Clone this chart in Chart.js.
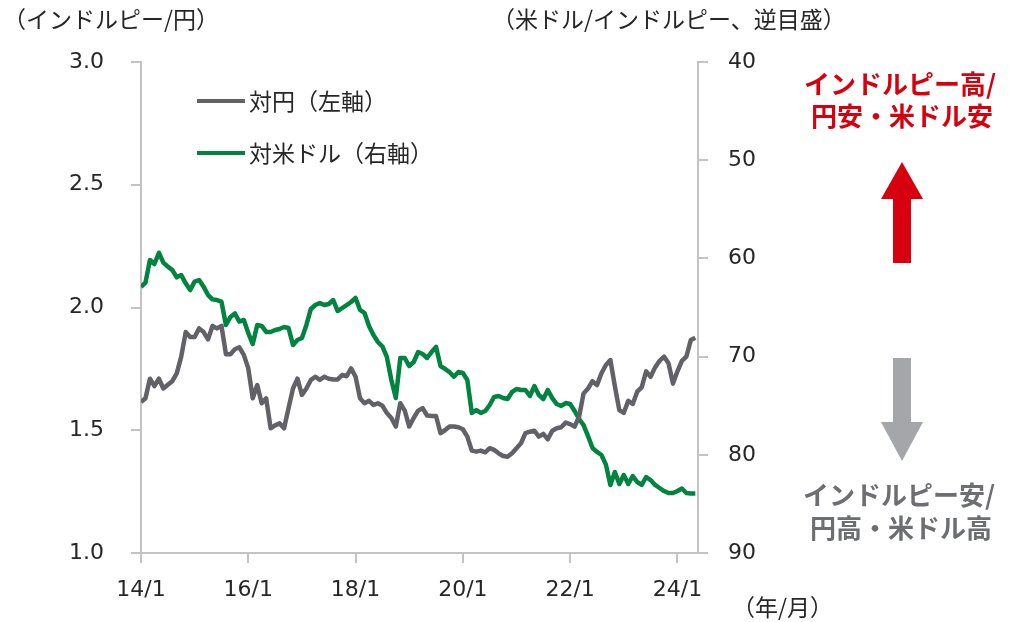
<!DOCTYPE html>
<html><head><meta charset="utf-8">
<script src="https://cdn.jsdelivr.net/npm/chart.js@4.4.0/dist/chart.umd.min.js"></script>
<style>html,body{margin:0;padding:0;background:#fff;}#wrap{width:1009px;height:622px;position:relative;}</style>
</head><body><div id="wrap"><canvas id="c" width="1009" height="622"></canvas></div>
<script>
// ---- data ----
const startYear = 2014, monthCount = 125; // 2014/1 .. 2024/5
const monthLabels = [];
for (let i = 0; i < monthCount; i++) {
  const y = startYear + Math.floor(i / 12), m = (i % 12) + 1;
  monthLabels.push(String(y).slice(2) + '/' + m);
}
const monthIndex = monthLabels.map((_, i) => i);

// インドルピー/円 (left axis)
const inrJpy = [
  1.615, 1.63, 1.71, 1.68, 1.71, 1.67, 1.685, 1.70, 1.732, 1.80,
  1.90, 1.88, 1.88, 1.915, 1.90, 1.87, 1.925, 1.915, 1.925, 1.81,
  1.81, 1.83, 1.838, 1.807, 1.752, 1.63, 1.684, 1.61, 1.63, 1.508,
  1.52, 1.528, 1.508, 1.59, 1.67, 1.71, 1.644, 1.67, 1.705, 1.718,
  1.705, 1.718, 1.71, 1.707, 1.707, 1.725, 1.72, 1.752, 1.718, 1.63,
  1.61, 1.62, 1.603, 1.61, 1.60, 1.57, 1.55, 1.515, 1.61, 1.58,
  1.515, 1.55, 1.58, 1.59, 1.56, 1.558, 1.558, 1.488, 1.50, 1.515,
  1.515, 1.512, 1.504, 1.474, 1.417, 1.413, 1.417, 1.41, 1.427, 1.42,
  1.406, 1.395, 1.392, 1.406, 1.427, 1.447, 1.488, 1.494, 1.498, 1.474,
  1.485, 1.463, 1.498, 1.508, 1.512, 1.531, 1.525, 1.515, 1.555, 1.65,
  1.67, 1.70, 1.684, 1.732, 1.766, 1.786, 1.68, 1.582, 1.571, 1.62,
  1.607, 1.657, 1.675, 1.74, 1.718, 1.756, 1.783, 1.80, 1.773, 1.69,
  1.74, 1.783, 1.80, 1.868, 1.877
];
// 米ドル/インドルピー (right axis, reversed)
const usdInr = [
  62.9, 62.47, 60.16, 60.57, 59.42, 60.43, 60.84, 61.18, 61.93, 61.69,
  62.54, 63.22, 62.37, 62.20, 62.88, 63.73, 64.17, 64.24, 64.41, 66.78,
  65.97, 65.61, 66.43, 66.27, 67.60, 68.72, 66.78, 66.88, 67.49, 67.49,
  67.29, 67.19, 66.99, 67.09, 68.82, 68.31, 68.11, 66.78, 65.15, 64.75,
  64.54, 64.75, 64.64, 64.24, 65.36, 65.05, 64.75, 64.44, 64.03, 65.25,
  65.56, 66.88, 67.80, 68.51, 68.97, 70.04, 72.38, 74.22, 70.14, 70.14,
  70.96, 70.55, 69.53, 69.74, 70.14, 69.53, 69.02, 70.96, 71.26, 71.57,
  72.05, 71.57, 71.67, 72.38, 75.74, 75.44, 75.74, 75.54, 74.93, 74.11,
  74.01, 74.22, 74.32, 73.60, 73.30, 73.40, 73.40, 74.01, 73.0, 73.91,
  74.32, 73.40, 74.22, 74.83, 75.03, 74.73, 74.83, 75.54, 76.35, 76.97,
  78.09, 79.31, 79.71, 80.02, 81.0, 83.07, 81.75, 82.97, 82.06, 82.97,
  82.16, 82.77, 83.07, 82.26, 82.57, 83.07, 83.38, 83.69, 83.89, 83.89,
  83.69, 83.43, 83.89, 83.94, 83.94
];
const xTickPositions = [0, 24, 48, 72, 96, 120];
const xTickLabels = ['14/1', '16/1', '18/1', '20/1', '22/1', '24/1'];
const leftTicks = [1.0, 1.5, 2.0, 2.5, 3.0];
const rightTicks = [40, 50, 60, 70, 80, 90];
const seriesNames = ['対円（左軸）', '対米ドル（右軸）'];
const leftTitle = '（インドルピー/円）';
const rightTitle = '（米ドル/インドルピー、逆目盛）';
const xUnit = '（年/月）';
const upText = ['インドルピー高/', '円安・米ドル安'];
const downText = ['インドルピー安/', '円高・米ドル高'];

// ---- styles ----
const GRAY = '#616167', GREEN = '#00843f', RED = '#d7000f', ARROW_GRAY = '#a5a6a9';
const AXIS = '#c3c3c3', TXT = '#262626';
const NUMFONT = '"DejaVu Sans", Verdana, sans-serif';
const JPFONT = '"Noto Sans CJK JP", sans-serif';

const annot = {
  id: 'annot',
  afterDraw(chart) {
    const ctx = chart.ctx;
    ctx.save();
    ctx.textBaseline = 'middle';
    ctx.textAlign = 'left';
    ctx.fillStyle = TXT;
    ctx.font = '23px ' + JPFONT;
    ctx.fillText(leftTitle, 3, 19);
    ctx.fillText(rightTitle, 492, 19);
    ctx.fillText(xUnit, 732, 607);
    // legend
    chart.data.datasets.forEach((ds, i) => {
      const y = 101 + i * 52;
      ctx.strokeStyle = ds.borderColor; ctx.lineWidth = 4; ctx.lineCap = 'butt';
      ctx.beginPath(); ctx.moveTo(197, y); ctx.lineTo(245, y); ctx.stroke();
      ctx.fillStyle = TXT;
      ctx.font = '23px ' + JPFONT;
      ctx.fillText(ds.label, 249, y);
    });
    // annotation texts
    ctx.textAlign = 'center';
    ctx.font = 'bold 26px ' + JPFONT;
    ctx.fillStyle = RED;
    ctx.fillText(upText[0], 900, 84);
    ctx.fillText(upText[1], 902, 116);
    ctx.fillStyle = '#6d6e72';
    ctx.fillText(downText[0], 899, 495);
    ctx.fillText(downText[1], 901, 528);
    // red arrow (up)
    ctx.fillStyle = RED;
    ctx.beginPath();
    ctx.moveTo(902, 162); ctx.lineTo(923, 199); ctx.lineTo(911, 199); ctx.lineTo(911, 263);
    ctx.lineTo(893, 263); ctx.lineTo(893, 199); ctx.lineTo(881, 199); ctx.closePath(); ctx.fill();
    // gray arrow (down)
    ctx.fillStyle = ARROW_GRAY;
    ctx.beginPath();
    ctx.moveTo(893, 358); ctx.lineTo(911, 358); ctx.lineTo(911, 422); ctx.lineTo(923, 422);
    ctx.lineTo(902, 461); ctx.lineTo(881, 422); ctx.lineTo(893, 422); ctx.closePath(); ctx.fill();
    ctx.restore();
  }
};

new Chart(document.getElementById('c'), {
  type: 'line',
  data: {
    labels: monthIndex,
    datasets: [
      { label: seriesNames[0], data: inrJpy, yAxisID: 'yL', borderColor: GRAY, backgroundColor: GRAY,
        borderWidth: 4.5, pointRadius: 0, tension: 0, borderJoinStyle: 'round' },
      { label: seriesNames[1], data: usdInr, yAxisID: 'yR', borderColor: GREEN, backgroundColor: GREEN,
        borderWidth: 4.5, pointRadius: 0, tension: 0, borderJoinStyle: 'round' }
    ]
  },
  options: {
    responsive: false, animation: false,
    layout: { padding: { top: 62, left: 0, right: 0, bottom: 0 } },
    plugins: { legend: { display: false }, tooltip: { enabled: false } },
    scales: {
      x: {
        type: 'linear', min: 0, max: 124.6,
        afterBuildTicks: s => { s.ticks = xTickPositions.map(v => ({ value: v })); },
        afterFit: s => { s.height = 69; },
        ticks: { callback: (v) => xTickLabels[xTickPositions.indexOf(v)], color: TXT,
                 font: { family: NUMFONT, size: 22 }, padding: 14, maxRotation: 0, autoSkip: false },
        grid: { drawOnChartArea: false, drawTicks: true, tickLength: 10, color: AXIS, lineWidth: 2 },
        border: { color: AXIS, width: 2 }
      },
      yL: {
        position: 'left', min: 1, max: 3,
        afterBuildTicks: s => { s.ticks = leftTicks.map(v => ({ value: v })); },
        afterFit: s => { s.width = 141; },
        ticks: { callback: v => v.toFixed(1), color: TXT, font: { family: NUMFONT, size: 22 }, padding: 27 },
        grid: { drawOnChartArea: false, drawTicks: true, tickLength: 10, color: AXIS, lineWidth: 2 },
        border: { color: AXIS, width: 2 }
      },
      yR: {
        position: 'right', min: 40, max: 90, reverse: true,
        afterBuildTicks: s => { s.ticks = rightTicks.map(v => ({ value: v })); },
        afterFit: s => { s.width = 311; },
        ticks: { callback: v => String(v), color: TXT, font: { family: NUMFONT, size: 22 }, padding: 20 },
        grid: { drawOnChartArea: false, drawTicks: true, tickLength: 10, color: AXIS, lineWidth: 2 },
        border: { color: AXIS, width: 2 }
      }
    }
  },
  plugins: [annot]
});
</script></body></html>
